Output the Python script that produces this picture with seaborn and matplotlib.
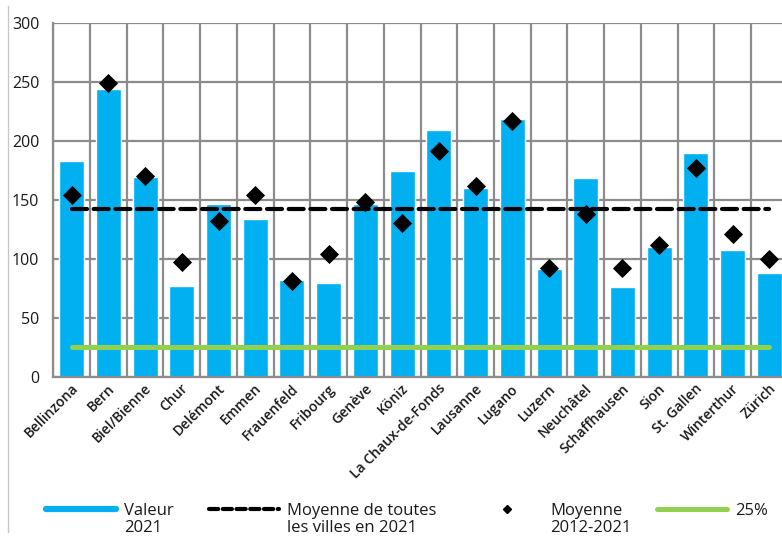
import numpy as np
import pandas as pd
import matplotlib
matplotlib.use("Agg")
import matplotlib.pyplot as plt
import matplotlib.transforms as mtransforms
from matplotlib.lines import Line2D
import seaborn as sns

cities = ["Bellinzona", "Bern", "Biel/Bienne", "Chur", "Delémont", "Emmen",
          "Frauenfeld", "Fribourg", "Genève", "Köniz", "La Chaux-de-Fonds",
          "Lausanne", "Lugano", "Luzern", "Neuchâtel", "Schaffhausen", "Sion",
          "St. Gallen", "Winterthur", "Zürich"]
valeur_2021 = [183, 244, 169, 77, 146, 134, 82, 79, 146, 174, 209, 160, 218,
               91, 168, 76, 110, 190, 107, 88]
moyenne_2012_2021 = [154, 249, 170, 97, 132, 154, 81, 104, 148, 130, 191,
                     162, 217, 92, 138, 92, 112, 177, 121, 100]
moyenne_villes_2021 = 142
quart = 25
y_ticks = [0, 50, 100, 150, 200, 250, 300]
legend_first = ["Valeur", "Moyenne de toutes", "Moyenne", "25%"]
legend_second = ["2021", "les villes en 2021", "2012-2021", ""]

BLUE = "#00B0F0"
GREEN = "#92D050"
GRID = "#8C8C8C"
TXT = "#1a1a1a"

sns.set_theme(style="white")
plt.rcParams["font.family"] = ["Open Sans", "DejaVu Sans"]

fig = plt.figure(figsize=(7.82, 5.39), dpi=100)
W, H = 782, 539
x0, x1 = 53.3, 787.7
y0, y1 = 376.7, 22.7
ax = fig.add_axes([x0 / W, (H - y0) / H, (x1 - x0) / W, (y0 - y1) / H])

df = pd.DataFrame({"ville": cities, "valeur": valeur_2021,
                   "moyenne": moyenne_2012_2021})
pos = np.arange(len(cities))

sns.barplot(data=df, x="ville", y="valeur", color=BLUE, width=0.68,
            saturation=1, ax=ax, zorder=2)
ax.plot(pos[[0, -1]], [moyenne_villes_2021] * 2, color="black", lw=3.0,
        ls=(0, (3.6, 1.6)), dash_capstyle="round", zorder=4)
ax.plot(pos[[0, -1]], [quart] * 2, color=GREEN, lw=3.6,
        solid_capstyle="round", zorder=4)
sns.scatterplot(x=pos, y=df["moyenne"].values, marker="D", s=95,
                color="black", edgecolor="black", linewidth=0, ax=ax, zorder=5)

ax.set_xlim(-0.5, len(cities) - 0.5)
ax.set_ylim(0, 300)
ax.set_yticks(y_ticks)
ax.set_xticks(pos)
ax.set_xticks(np.arange(len(cities) + 1) - 0.5, minor=True)
ax.set_xlabel("")
ax.set_ylabel("")
ax.grid(False)
ax.yaxis.grid(True, color=GRID, lw=1.6, zorder=0)
ax.xaxis.grid(True, which="minor", color=GRID, lw=1.6, zorder=0)
ax.set_axisbelow(True)
for s in ["top", "right"]:
    ax.spines[s].set_visible(False)
for s in ["left", "bottom"]:
    ax.spines[s].set_color(GRID)
    ax.spines[s].set_linewidth(1.6)
ax.tick_params(axis="both", which="both", length=0)
ax.tick_params(axis="y", pad=10, labelsize=11.5, labelcolor=TXT)
ax.set_xticklabels(cities, rotation=45, ha="right", va="center",
                   rotation_mode="anchor", fontsize=10, fontweight=600,
                   color=TXT)
ax.tick_params(axis="x", pad=7)
shift = mtransforms.ScaledTranslation(4 / 100, 0, fig.dpi_scale_trans)
for lab in ax.get_xticklabels():
    lab.set_transform(lab.get_transform() + shift)

LFS = 12
handles = [Line2D([], [], color=BLUE, lw=4.5),
           Line2D([], [], color="black", lw=3.0, ls=(0, (2.2, 1.1)),
                  dash_capstyle="round"),
           Line2D([], [], color="black", marker="D", ls="", markersize=4.5),
           Line2D([], [], color=GREEN, lw=3.6, solid_capstyle="round")]
leg = fig.legend(handles, legend_first, ncol=4, loc="upper left",
                 bbox_to_anchor=(46 / W, 1 - 503 / H), frameon=False,
                 fontsize=LFS, handlelength=4.2, handletextpad=0.5,
                 columnspacing=2.1, borderpad=0, borderaxespad=0,
                 labelcolor=TXT)

fig.canvas.draw()
renderer = fig.canvas.get_renderer()
inv = fig.transFigure.inverted()
for t, second in zip(leg.get_texts(), legend_second):
    if not second:
        continue
    bb = t.get_window_extent(renderer)
    px0, py0 = inv.transform((bb.x0, bb.y0))
    fig.text(px0, py0 - 17.3 / H, second, fontsize=LFS, color=TXT,
             ha="left", va="bottom")

fig.add_artist(Line2D([8 / W, 8 / W], [1 - 6 / H, 1 - 532 / H],
                      transform=fig.transFigure, color="#c8c8c8", lw=1))

fig.savefig("out.png", dpi=100)
